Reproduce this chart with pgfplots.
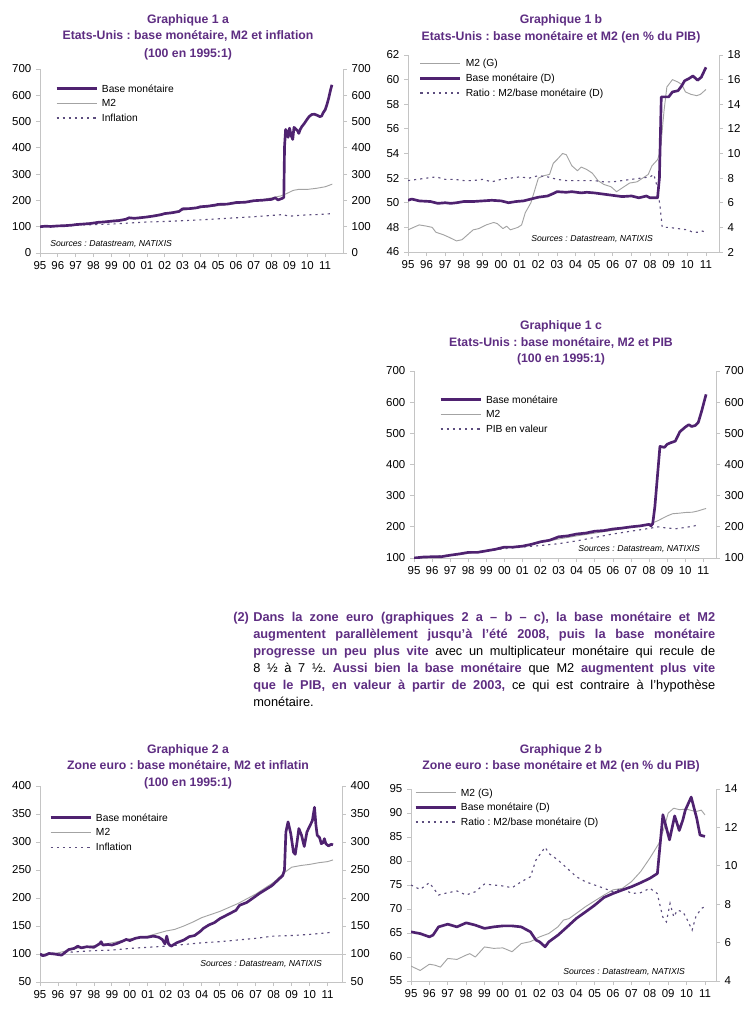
\documentclass[border=0pt]{standalone}
\usepackage{pgfplots}
\pgfplotsset{compat=1.18}
\usepackage{fontspec}
\setmainfont{Liberation Sans}
\frenchspacing
\definecolor{titlepurple}{HTML}{5E2D82}
\definecolor{basecol}{HTML}{4F2270}
\definecolor{m2col}{HTML}{A3A3A3}
\definecolor{dotcol}{HTML}{5C4D7E}
\definecolor{axcol}{HTML}{C4C4C4}
\newcommand{\B}[1]{{\bfseries\color{titlepurple}#1}}
\pgfplotsset{
  bmstyle/.style={basecol, line width=2pt, line join=round},
  mtstyle/.style={m2col, line width=0.7pt, line join=round},
  dotstyle/.style={dotcol, line width=0.85pt, dash pattern=on 1.6pt off 3pt},
  common/.style={
    scale only axis, anchor=south west, xmin=1995,
    xtick={1995,...,2011},
    xticklabels={95,96,97,98,99,00,01,02,03,04,05,06,07,08,09,10,11},
    tick align=outside, major tick length=3pt,
    axis line style={draw=axcol, line width=0.6pt},
    tick style={draw=axcol, line width=0.6pt},
    tick label style={font=\fontsize{8.6}{10}\selectfont, text=black},
    /pgf/number format/assume math mode=true,
    legend cell align=left,
    legend style={draw=none, fill=none, inner sep=0pt, anchor=north west,
      font=\fontsize{7.7}{9}\selectfont, row sep=2pt, column sep=3pt,
      nodes={inner sep=0pt, text height=7pt, text depth=2pt}},
    legend image code/.code={\draw[##1] (0pt,0pt) -- (30pt,0pt);},
  },
  leftax/.style={common, axis x line*=bottom, axis y line*=left},
  rightax/.style={common, axis x line=none, axis y line*=right},
}
\begin{document}
\begin{tikzpicture}
\path[use as bounding box] (0pt,0pt) rectangle (564.75pt,-768pt);

% ---------------- Graphique 1 a ----------------
\begin{axis}[leftax, at={(30pt,-189.75pt)}, width=227.25pt, height=138pt,
  xmax=2012, ymin=0, ymax=700, ytick={0,100,...,700}, reverse legend,
  legend style={at={(0.0495,0.927)}}]
\addplot[dotstyle] coordinates {(1995,100)(1996,103)(1997,106)(1998,108)(1999,110)(2000,114)(2001,118)(2002,120)(2003,123)(2004,126)(2005,130)(2006,134)(2007,138)(2008,143)(2008.6,146)(2009.0,140)(2009.5,143)(2010,145)(2010.5,146)(2011,148)(2011.4,150)};
\addlegendentry{Inflation}
\addplot[mtstyle] coordinates {(1995,100)(1996,104)(1997,109)(1998,115)(1999,124)(2000,131)(2001,139)(2002,151)(2003,163)(2004,172)(2005,180)(2006,188)(2007,197)(2008,210)(2008.5,217)(2008.8,225)(2009.2,238)(2009.5,242)(2010,242)(2010.5,246)(2011,252)(2011.4,262)};
\addlegendentry{M2}
\addplot[bmstyle] coordinates {(1995.0,100)(1995.3,102)(1995.6,101)(1996.0,103)(1996.4,104)(1996.8,106)(1997.0,108)(1997.4,110)(1997.8,112)(1998.0,114)(1998.3,117)(1998.6,118)(1999.0,121)(1999.4,123)(1999.8,128)(2000.0,134)(2000.3,132)(2000.6,134)(2001.0,137)(2001.4,141)(2001.8,146)(2002.0,150)(2002.4,153)(2002.8,158)(2003.0,168)(2003.4,169)(2003.8,172)(2004.0,176)(2004.4,178)(2004.8,182)(2005.0,185)(2005.5,186)(2006.0,192)(2006.5,193)(2007.0,199)(2007.5,201)(2007.8,203)(2008.0,204)(2008.2,210)(2008.35,202)(2008.6,208)(2008.68,212)(2008.72,405)(2008.78,470)(2008.85,462)(2008.92,440)(2009.0,475)(2009.1,445)(2009.18,432)(2009.25,478)(2009.35,472)(2009.45,465)(2009.52,455)(2009.6,470)(2009.7,482)(2009.8,490)(2009.9,500)(2010.0,510)(2010.1,519)(2010.25,527)(2010.4,528)(2010.55,524)(2010.7,519)(2010.8,521)(2010.9,535)(2011.0,545)(2011.1,565)(2011.2,590)(2011.3,620)(2011.38,640)};
\addlegendentry{Base monétaire}
\end{axis}
\begin{axis}[rightax, at={(30pt,-189.75pt)}, width=227.25pt, height=138pt,
  xmax=2012, ymin=0, ymax=700, ytick={0,100,...,700}]
\addplot[draw=none] coordinates {(1995,100)};
\end{axis}

% ---------------- Graphique 1 b ----------------
\begin{axis}[leftax, at={(306pt,-189pt)}, width=233.25pt, height=147.75pt,
  xmax=2011.7, ymin=46, ymax=62, ytick={46,48,...,62},
  legend style={at={(0.035,0.988)}}]
\addplot[mtstyle] coordinates {(1995.0,47.8)(1995.3,48.0)(1995.6,48.2)(1996.0,48.1)(1996.3,48.0)(1996.5,47.6)(1996.9,47.4)(1997.2,47.2)(1997.6,46.9)(1997.9,47.0)(1998.2,47.4)(1998.5,47.8)(1998.8,47.9)(1999.2,48.2)(1999.6,48.4)(1999.8,48.3)(2000.1,47.9)(2000.3,48.1)(2000.5,47.8)(2000.9,48.0)(2001.1,48.2)(2001.3,49.2)(2001.6,50.0)(2001.8,51.0)(2002.0,52.0)(2002.3,52.2)(2002.6,52.3)(2002.8,53.2)(2003.0,53.5)(2003.3,54.0)(2003.5,53.9)(2003.8,53.0)(2004.1,52.6)(2004.3,52.9)(2004.6,52.7)(2004.9,52.4)(2005.2,51.8)(2005.5,51.5)(2005.9,51.3)(2006.2,50.9)(2006.5,51.2)(2006.9,51.6)(2007.3,51.7)(2007.6,52.0)(2007.9,52.3)(2008.1,53.0)(2008.4,53.5)(2008.55,54.2)(2008.75,57.5)(2008.9,59.4)(2009.2,60.0)(2009.5,59.8)(2009.7,59.6)(2009.9,59.0)(2010.2,58.8)(2010.5,58.7)(2010.7,58.8)(2011.0,59.2)};
\addlegendentry{M2 (G)}
\addlegendimage{bmstyle}
\addlegendentry{Base monétaire (D)}
\addlegendimage{dotstyle}
\addlegendentry{Ratio : M2/base monétaire (D)}
\end{axis}
\begin{axis}[rightax, at={(306pt,-189pt)}, width=233.25pt, height=147.75pt,
  xmax=2011.7, ymin=2, ymax=18, ytick={2,4,...,18}]
\addplot[dotstyle] coordinates {(1995.0,7.8)(1995.5,7.9)(1996.0,8.0)(1996.5,8.1)(1997.0,7.9)(1997.5,7.9)(1998.0,7.8)(1998.5,7.8)(1999.0,7.9)(1999.5,7.7)(2000.0,7.9)(2000.5,8.0)(2001.0,8.1)(2001.5,8.0)(2002.0,8.2)(2002.5,8.1)(2003.0,7.9)(2003.5,7.8)(2004.0,7.8)(2005.0,7.8)(2005.5,7.7)(2006.0,7.7)(2006.5,7.8)(2007.0,7.9)(2007.5,8.0)(2008.0,8.1)(2008.2,8.3)(2008.4,7.2)(2008.55,5.5)(2008.65,4.0)(2009.0,4.0)(2009.5,3.9)(2010.0,3.8)(2010.3,3.6)(2010.6,3.6)(2010.8,3.7)(2011.0,3.6)};
\addplot[bmstyle] coordinates {(1995.0,6.2)(1995.2,6.3)(1995.6,6.15)(1996.2,6.1)(1996.6,5.95)(1997.0,6.0)(1997.3,5.95)(1997.6,6.0)(1998.0,6.1)(1998.5,6.1)(1999.0,6.15)(1999.5,6.2)(2000.0,6.15)(2000.4,6.0)(2000.8,6.1)(2001.2,6.15)(2001.6,6.3)(2002.0,6.45)(2002.5,6.55)(2002.8,6.75)(2003.0,6.9)(2003.5,6.85)(2003.8,6.9)(2004.3,6.8)(2004.6,6.85)(2005.0,6.8)(2005.5,6.7)(2006.0,6.6)(2006.5,6.5)(2007.0,6.55)(2007.4,6.4)(2007.8,6.55)(2008.0,6.4)(2008.4,6.4)(2008.5,8.0)(2008.6,14.6)(2009.0,14.6)(2009.2,15.0)(2009.5,15.1)(2009.7,15.5)(2009.85,15.9)(2010.1,16.1)(2010.3,16.3)(2010.55,15.95)(2010.75,16.2)(2011.0,17.0)};
\end{axis}

% ---------------- Graphique 1 c ----------------
\begin{axis}[leftax, at={(310.5pt,-418.5pt)}, width=226.5pt, height=140.25pt,
  xmax=2011.7, ymin=100, ymax=700, ytick={100,200,...,700}, reverse legend,
  legend style={at={(0.083,0.880)}}]
\addplot[dotstyle] coordinates {(1995,100)(1996,104)(1997,110)(1998,116)(1999,122)(2000,130)(2001,135)(2002,140)(2003,146)(2004,155)(2005,166)(2006,177)(2007,186)(2008,195)(2008.5,200)(2009.0,196)(2009.5,194)(2010,198)(2010.5,203)(2010.75,207)};
\addlegendentry{PIB en valeur}
\addplot[mtstyle] coordinates {(1995,100)(1996,104)(1997,108)(1998,115)(1999,124)(2000,132)(2001,139)(2002,150)(2003,161)(2004,171)(2005,180)(2006,189)(2007,198)(2008,208)(2008.5,220)(2009.0,235)(2009.3,242)(2009.7,244)(2010,246)(2010.4,247)(2010.7,251)(2011.15,259)};
\addlegendentry{M2}
\addplot[bmstyle] coordinates {(1995.0,100)(1995.5,103)(1996.0,104)(1996.5,104)(1997.0,109)(1997.5,113)(1998.0,118)(1998.5,118)(1999.0,123)(1999.5,128)(2000.0,135)(2000.5,135)(2001.0,138)(2001.5,144)(2002.0,152)(2002.5,157)(2003.0,168)(2003.5,171)(2004.0,177)(2004.5,180)(2005.0,186)(2005.5,188)(2006.0,193)(2006.5,196)(2007.0,200)(2007.5,203)(2008.0,208)(2008.1,203)(2008.2,210)(2008.32,265)(2008.6,458)(2008.85,455)(2009.0,465)(2009.2,470)(2009.45,475)(2009.7,505)(2010.0,520)(2010.2,528)(2010.35,522)(2010.55,525)(2010.72,535)(2010.9,570)(2011.15,625)};
\addlegendentry{Base monétaire}
\end{axis}
\begin{axis}[rightax, at={(310.5pt,-418.5pt)}, width=226.5pt, height=140.25pt,
  xmax=2011.7, ymin=100, ymax=700, ytick={100,200,...,700}]
\addplot[draw=none] coordinates {(1995,150)};
\end{axis}

% ---------------- Graphique 2 a ----------------
\begin{axis}[leftax, at={(30pt,-736.5pt)}, width=226.5pt, height=147pt,
  xmax=2011.8, ymin=50, ymax=400, ytick={50,100,...,400}, reverse legend,
  extra y ticks={100}, extra y tick labels={},
  extra y tick style={grid=major, major grid style={draw=axcol, line width=0.6pt}},
  legend style={at={(0.030,0.870)}}]
\addplot[dotstyle] coordinates {(1995,100)(1996,102)(1997,104)(1998,106)(1999,107)(2000,110)(2001,112)(2002,114)(2003,117)(2004,120)(2005,122)(2006,125)(2007,128)(2008,132)(2009,133)(2009.5,134)(2010,135)(2010.7,137)(2011.3,139)};
\addlegendentry{Inflation}
\addplot[mtstyle] coordinates {(1995,100)(1995.5,100)(1996,102)(1996.5,106)(1997,110)(1998,115)(1999,120)(2000,127)(2001,132)(2002,141)(2002.5,144)(2003,150)(2003.5,157)(2004,165)(2005,176)(2006,190)(2007,207)(2008,228)(2008.5,243)(2009,255)(2009.5,258)(2010,260)(2010.5,263)(2011,265)(2011.3,268)};
\addlegendentry{M2}
\addplot[bmstyle] coordinates {(1995.0,100)(1995.15,97)(1995.3,98)(1995.5,101)(1995.8,100)(1996.0,99)(1996.2,98)(1996.4,103)(1996.6,108)(1996.9,110)(1997.1,114)(1997.3,111)(1997.6,113)(1998.0,112)(1998.3,118)(1998.4,122)(1998.5,116)(1998.8,117)(1999.0,116)(1999.3,119)(1999.6,123)(1999.8,126)(2000.0,124)(2000.3,128)(2000.6,130)(2001.0,130)(2001.3,132)(2001.6,130)(2001.8,126)(2001.95,118)(2002.05,132)(2002.15,118)(2002.3,114)(2002.6,120)(2003.0,125)(2003.3,131)(2003.6,133)(2003.9,140)(2004.1,146)(2004.4,152)(2004.7,156)(2005.0,163)(2005.3,168)(2005.6,173)(2005.9,178)(2006.1,187)(2006.5,192)(2006.9,201)(2007.2,208)(2007.5,214)(2007.9,222)(2008.2,231)(2008.5,240)(2008.6,250)(2008.68,318)(2008.8,336)(2008.95,315)(2009.1,282)(2009.2,278)(2009.3,300)(2009.4,324)(2009.55,312)(2009.7,292)(2009.85,318)(2010.0,328)(2010.15,338)(2010.27,362)(2010.35,330)(2010.42,312)(2010.55,308)(2010.65,297)(2010.75,299)(2010.82,306)(2010.9,297)(2011.05,293)(2011.2,296)(2011.3,295)};
\addlegendentry{Base monétaire}
\end{axis}
\begin{axis}[rightax, at={(30pt,-736.5pt)}, width=226.5pt, height=147pt,
  xmax=2011.8, ymin=50, ymax=400, ytick={50,100,...,400}]
\addplot[draw=none] coordinates {(1995,100)};
\end{axis}

% ---------------- Graphique 2 b ----------------
\begin{axis}[leftax, at={(308.25pt,-735.75pt)}, width=228.75pt, height=144pt,
  xmax=2011.6, ymin=55, ymax=95, ytick={55,60,...,95},
  legend style={at={(0.0098,1.0135)}}]
\addplot[mtstyle] coordinates {(1995.0,58.1)(1995.5,57.2)(1996.0,58.5)(1996.3,58.3)(1996.6,57.9)(1997.0,59.7)(1997.5,59.5)(1998.0,60.4)(1998.2,60.7)(1998.5,60.0)(1999.0,62.1)(1999.5,61.8)(2000.0,61.9)(2000.5,61.1)(2001.0,62.8)(2001.5,63.2)(2002.0,64.2)(2002.5,64.9)(2003.0,66.3)(2003.3,67.7)(2003.6,68.0)(2004.0,69.1)(2004.5,70.5)(2005.0,71.7)(2005.5,72.9)(2006.0,74.0)(2006.5,74.3)(2007.0,75.7)(2007.5,77.8)(2008.0,80.6)(2008.5,83.7)(2008.8,87.2)(2009.0,90.0)(2009.3,91.0)(2009.6,90.7)(2010.0,90.8)(2010.5,90.3)(2010.8,90.6)(2011.0,89.6)};
\addlegendentry{M2 (G)}
\addlegendimage{bmstyle}
\addlegendentry{Base monétaire (D)}
\addlegendimage{dotstyle}
\addlegendentry{Ratio : M2/base monétaire (D)}
\end{axis}
\begin{axis}[rightax, at={(308.25pt,-735.75pt)}, width=228.75pt, height=144pt,
  xmax=2011.6, ymin=4, ymax=14, ytick={4,6,...,14}]
\addplot[dotstyle] coordinates {(1995.0,9.0)(1995.5,8.77)(1996.0,9.12)(1996.5,8.48)(1997.0,8.6)(1997.5,8.69)(1998.0,8.48)(1998.5,8.65)(1999.0,9.05)(1999.5,9.0)(2000.0,8.95)(2000.5,8.86)(2001.0,9.17)(2001.5,9.43)(2001.8,10.3)(2002.0,10.57)(2002.3,10.97)(2002.5,10.65)(2003.0,10.3)(2003.5,9.87)(2004.0,9.43)(2004.5,9.17)(2005.0,9.0)(2005.5,8.83)(2006.0,8.65)(2006.5,8.83)(2007.0,8.56)(2007.5,8.6)(2008.0,8.83)(2008.4,8.56)(2008.7,7.34)(2008.9,7.08)(2009.1,8.04)(2009.3,7.34)(2009.5,7.69)(2009.8,7.6)(2010.0,7.26)(2010.3,6.65)(2010.5,7.34)(2010.8,7.78)(2011.0,7.87)};
\addplot[bmstyle] coordinates {(1995.0,6.56)(1995.5,6.47)(1996.0,6.30)(1996.2,6.39)(1996.5,6.82)(1997.0,6.96)(1997.5,6.82)(1998.0,7.03)(1998.5,6.91)(1999.0,6.74)(1999.5,6.82)(2000.0,6.87)(2000.5,6.87)(2001.0,6.82)(2001.5,6.56)(2001.8,6.13)(2002.0,6.04)(2002.3,5.78)(2002.5,6.04)(2003.0,6.39)(2003.5,6.82)(2004.0,7.26)(2004.5,7.6)(2005.0,7.95)(2005.5,8.35)(2006.0,8.56)(2006.5,8.74)(2007.0,8.91)(2007.5,9.12)(2008.0,9.35)(2008.41,9.6)(2008.71,12.66)(2009.07,11.35)(2009.35,12.6)(2009.6,11.84)(2009.8,12.4)(2009.93,12.9)(2010.25,13.58)(2010.55,12.48)(2010.73,11.6)(2011.0,11.53)};
\end{axis}

% ---------------- texts ----------------
\begin{scope}[x=0.75pt, y=-0.75pt]
\tikzset{ttl/.style={anchor=base, inner sep=0pt, font=\fontsize{9.2}{11}\selectfont\bfseries, text=titlepurple},
         src/.style={anchor=base west, inner sep=0pt, font=\fontsize{6.5}{8}\selectfont\itshape}}
\node[ttl] at (188,24) {Graphique 1 a};
\node[ttl] at (188,40) {Etats-Unis : base monétaire, M2 et inflation};
\node[ttl] at (188,58) {(100 en 1995:1)};
\node[ttl] at (561,24) {Graphique 1 b};
\node[ttl] at (561,41) {Etats-Unis : base monétaire et M2 (en \% du PIB)};
\node[ttl] at (561,329) {Graphique 1 c};
\node[ttl] at (561,346) {Etats-Unis : base monétaire, M2 et PIB};
\node[ttl] at (561,362) {(100 en 1995:1)};
\node[ttl] at (188,753) {Graphique 2 a};
\node[ttl] at (188,769) {Zone euro : base monétaire, M2 et inflatin};
\node[ttl] at (188,786) {(100 en 1995:1)};
\node[ttl] at (561,753) {Graphique 2 b};
\node[ttl] at (561,769) {Zone euro : base monétaire et M2 (en \% du PIB)};
\node[src] at (50,246) {Sources : Datastream, NATIXIS};
\node[src] at (531,241) {Sources : Datastream, NATIXIS};
\node[src] at (578,551) {Sources : Datastream, NATIXIS};
\node[src] at (200,966) {Sources : Datastream, NATIXIS};
\node[src] at (563,974) {Sources : Datastream, NATIXIS};
\node[anchor=base west, inner sep=0pt, font=\fontsize{9.6}{12.75}\selectfont\bfseries, text=titlepurple] at (233,621) {(2)};
\node[anchor=base west, inner sep=0pt, text width=346.5pt, align=justify, font=\fontsize{9.6}{12.75}\selectfont] at (253,621)
{\B{Dans la zone euro (graphiques 2 a – b – c), la base monétaire et M2}\linebreak
\B{augmentent parallèlement jusqu’à l’été 2008, puis la base monétaire}\linebreak
\B{progresse un peu plus vite} avec un multiplicateur monétaire qui recule de\linebreak
8 ½ à 7 ½. \B{Aussi bien la base monétaire} que M2 \B{augmentent plus vite}\linebreak
\B{que le PIB, en valeur à partir de 2003,} ce qui est contraire à l’hypothèse\linebreak
monétaire.};
\end{scope}
\end{tikzpicture}
\end{document}
